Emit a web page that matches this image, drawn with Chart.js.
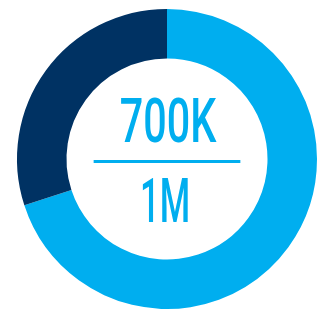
<!DOCTYPE html>
<html><head><meta charset="utf-8">
<script src="https://cdn.jsdelivr.net/npm/chart.js@4"></script>
<style>html,body{margin:0;padding:0;background:#fff;}#wrap{width:319px;height:311px;}</style>
</head><body><div id="wrap"><canvas id="c"></canvas></div>
<script>
const categories = ["Achieved", "Remaining"];
const values = [700000, 300000];
const centerTop = "700K";
const centerBottom = "1M";
const colors = ["#00AEEF", "#003263"];

const centerText = {
  id: 'centerText',
  afterDraw(chart) {
    const arc = chart.getDatasetMeta(0).data[0];
    const cx = arc.x, cy = arc.y, r = arc.innerRadius;
    const ctx = chart.ctx;
    ctx.save();
    ctx.fillStyle = colors[0];
    ctx.textAlign = 'center';
    ctx.textBaseline = 'alphabetic';
    ctx.font = '500 62px Roboto';
    const drawScaled = (txt, x, y, targetW) => {
      const w = ctx.measureText(txt).width;
      const s = targetW / w;
      ctx.save();
      ctx.translate(x, y);
      ctx.scale(s, 1);
      ctx.fillText(txt, 0, 0);
      ctx.restore();
    };
    drawScaled(centerTop, cx + 1, cy - 0.17 * r, 0.96 * r);
    drawScaled(centerBottom, cx - 2, cy + 0.63 * r, 0.50 * r);
    ctx.fillRect(cx - 0.73 * r, cy + 0.01 * r, 1.46 * r, 3);
    ctx.restore();
  }
};

new Chart(document.getElementById('c'), {
  type: 'doughnut',
  data: {
    labels: categories,
    datasets: [{ data: values, backgroundColor: colors, borderWidth: 0, hoverOffset: 0 }]
  },
  options: {
    responsive: true,
    maintainAspectRatio: false,
    animation: false,
    cutout: '67%',
    layout: { padding: { left: 17, right: 2, top: 9, bottom: 2 } },
    plugins: { legend: { display: false }, tooltip: { enabled: false } }
  },
  plugins: [centerText]
});
</script></body></html>
